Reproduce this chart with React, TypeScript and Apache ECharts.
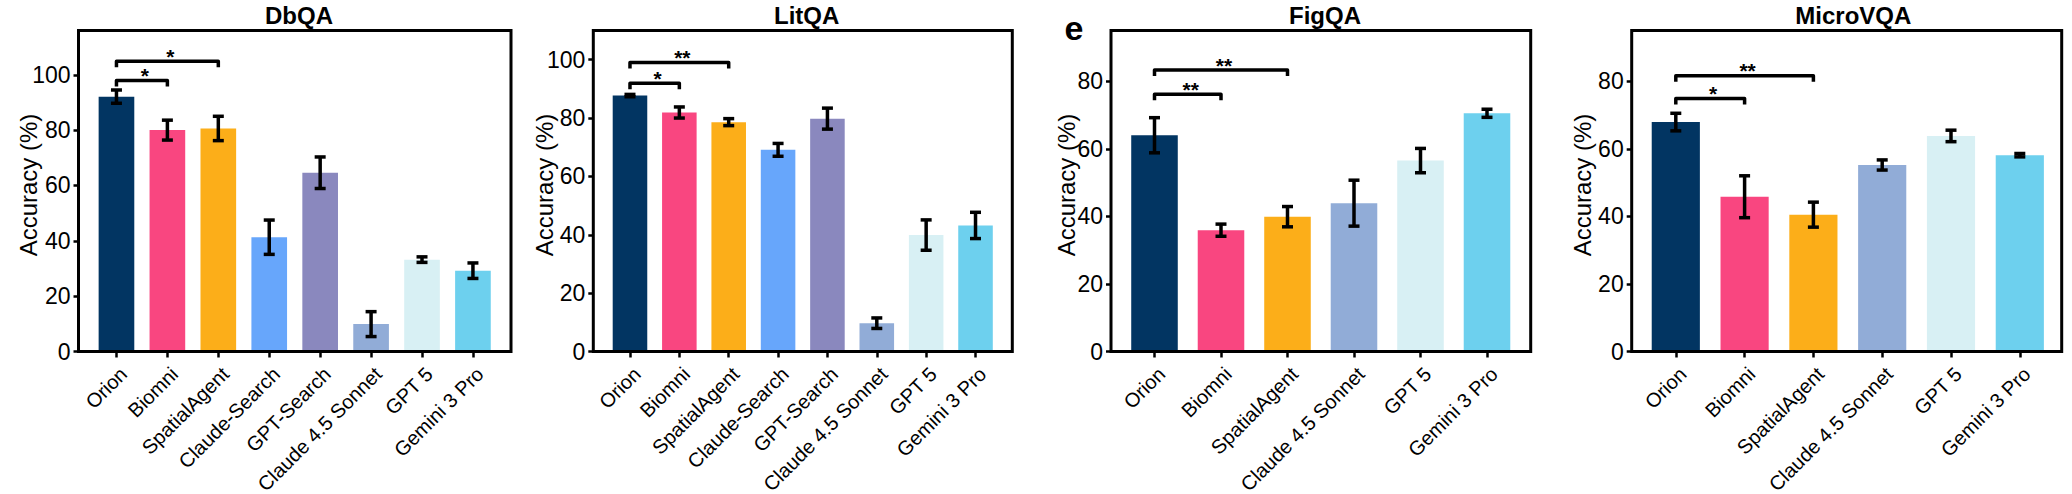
import React, { useEffect, useRef } from 'react';
import * as echarts from 'echarts';

const FONT = '"Liberation Sans", Arial, Helvetica, sans-serif';

// ---------- data ----------
const categories8 = ['Orion', 'Biomni', 'SpatialAgent', 'Claude-Search', 'GPT-Search', 'Claude 4.5 Sonnet', 'GPT 5', 'Gemini 3 Pro'];
const categories6 = ['Orion', 'Biomni', 'SpatialAgent', 'Claude 4.5 Sonnet', 'GPT 5', 'Gemini 3 Pro'];

const dbqaValues = [92.1, 80.0, 80.6, 41.3, 64.6, 9.9, 33.2, 29.2];
const dbqaErrors = [2.4, 3.6, 4.4, 6.2, 5.7, 4.5, 1.0, 2.8];
const litqaValues = [87.7, 81.9, 78.6, 69.1, 79.8, 9.7, 39.9, 43.2];
const litqaErrors = [0.4, 1.9, 1.2, 2.2, 3.6, 1.8, 5.2, 4.5];
const figqaValues = [64.0, 35.9, 39.9, 43.9, 56.5, 70.5];
const figqaErrors = [5.2, 1.8, 3.0, 6.8, 3.6, 1.2];
const microvqaValues = [67.9, 45.8, 40.5, 55.2, 63.8, 58.1];
const microvqaErrors = [2.6, 6.2, 3.7, 1.5, 1.7, 0.5];

// [fromIndex, toIndex, level, label]
const dbqaBrackets: [number, number, number, string][] = [[0, 1, 97.9, '*'], [0, 2, 104.9, '*']];
const litqaBrackets: [number, number, number, string][] = [[0, 1, 91.9, '*'], [0, 2, 99.0, '**']];
const figqaBrackets: [number, number, number, string][] = [[0, 1, 76.1, '**'], [0, 2, 83.3, '**']];
const microvqaBrackets: [number, number, number, string][] = [[0, 1, 74.9, '*'], [0, 2, 81.6, '**']];

const ticks100 = [0, 20, 40, 60, 80, 100];
const ticks80 = [0, 20, 40, 60, 80];

const modelColors: Record<string, string> = {
  'Orion': '#023562',
  'Biomni': '#F94680',
  'SpatialAgent': '#FCAE19',
  'Claude-Search': '#67A6FB',
  'GPT-Search': '#8A88BE',
  'Claude 4.5 Sonnet': '#91ACD7',
  'GPT 5': '#D8F0F4',
  'Gemini 3 Pro': '#6DD0EE',
};

// ---------- layout ----------
const TOP = 30.5;
const BOTTOM = 351.5;

const panels = [
  { title: 'DbQA', titleX: 299, L: 78.5, R: 511, gridLeft: 91, gridWidth: 407.4, yMax: 116, ticks: ticks100, nameX: 28.3, cats: categories8, values: dbqaValues, errors: dbqaErrors, brackets: dbqaBrackets },
  { title: 'LitQA', titleX: 806.7, L: 593.3, R: 1012.3, gridLeft: 605.3, gridWidth: 394.9, yMax: 110, ticks: ticks100, nameX: 544, cats: categories8, values: litqaValues, errors: litqaErrors, brackets: litqaBrackets },
  { title: 'FigQA', titleX: 1325, L: 1111, R: 1530.7, gridLeft: 1121.25, gridWidth: 399, yMax: 95, ticks: ticks80, nameX: 1066, cats: categories6, values: figqaValues, errors: figqaErrors, brackets: figqaBrackets },
  { title: 'MicroVQA', titleX: 1853.3, L: 1631.7, R: 2061.7, gridLeft: 1641.4, gridWidth: 412.8, yMax: 95, ticks: ticks80, nameX: 1582.5, cats: categories6, values: microvqaValues, errors: microvqaErrors, brackets: microvqaBrackets },
];

function buildOption() {
  const grid: any[] = [];
  const xAxis: any[] = [];
  const yAxis: any[] = [];
  const series: any[] = [];
  const graphic: any[] = [];

  panels.forEach((p, i) => {
    grid.push({ left: p.gridLeft, top: TOP, width: p.gridWidth, height: BOTTOM - TOP, containLabel: false, outerBoundsMode: 'none' });
    xAxis.push({
      type: 'category',
      gridIndex: i,
      data: p.cats,
      boundaryGap: true,
      axisLine: { show: false },
      axisTick: { show: true, alignWithLabel: true, length: 6, lineStyle: { color: '#000', width: 2.5 } },
      axisLabel: { rotate: 45, interval: 0, margin: 12, verticalAlign: 'top', hideOverlap: false, color: '#000', fontSize: 20, fontFamily: FONT },
      splitLine: { show: false },
    });
    yAxis.push({
      type: 'value',
      gridIndex: i,
      min: 0,
      max: p.yMax,
      offset: p.gridLeft - p.L,
      axisLine: { show: false },
      axisTick: { show: true, length: 5, customValues: p.ticks, lineStyle: { color: '#000', width: 2.5 } },
      axisLabel: { customValues: p.ticks, margin: 8, color: '#000', fontSize: 23, fontFamily: FONT },
      splitLine: { show: false },
    });
    series.push({
      type: 'bar',
      xAxisIndex: i,
      yAxisIndex: i,
      barWidth: '70%',
      data: p.values.map((v, j) => ({ value: v, itemStyle: { color: modelColors[p.cats[j]] } })),
      z: 2,
    });
    const errs = p.errors;
    series.push({
      type: 'custom',
      xAxisIndex: i,
      yAxisIndex: i,
      z: 5,
      data: p.values.map((v, j) => [j, v - errs[j], v + errs[j]]),
      renderItem: (params: any, api: any) => {
        const x = api.value(0);
        const pLo = api.coord([x, api.value(1)]);
        const pHi = api.coord([x, api.value(2)]);
        const hw = 5.5;
        const st = { stroke: '#000', lineWidth: 3.5 };
        return {
          type: 'group',
          children: [
            { type: 'line', shape: { x1: pLo[0], y1: pLo[1], x2: pHi[0], y2: pHi[1] }, style: st },
            { type: 'line', shape: { x1: pLo[0] - hw, y1: pLo[1], x2: pLo[0] + hw, y2: pLo[1] }, style: st },
            { type: 'line', shape: { x1: pHi[0] - hw, y1: pHi[1], x2: pHi[0] + hw, y2: pHi[1] }, style: st },
          ],
        };
      },
    });
    const br = p.brackets;
    series.push({
      type: 'custom',
      xAxisIndex: i,
      yAxisIndex: i,
      z: 5,
      data: br.map((b) => [b[0], b[1], b[2]]),
      renderItem: (params: any, api: any) => {
        const a = api.coord([api.value(0), api.value(2)]);
        const b = api.coord([api.value(1), api.value(2)]);
        const drop = 6;
        const label = br[params.dataIndex][3];
        return {
          type: 'group',
          children: [
            {
              type: 'polyline',
              shape: { points: [[a[0], a[1] + drop], [a[0], a[1]], [b[0], b[1]], [b[0], b[1] + drop]] },
              style: { stroke: '#000', lineWidth: 3.5, fill: null, lineJoin: 'round' },
            },
            {
              type: 'text',
              x: (a[0] + b[0]) / 2 + 3,
              y: a[1] - 5,
              style: { text: label, fill: '#000', font: `bold 21px ${FONT}`, align: 'center', verticalAlign: 'middle' },
            },
          ],
        };
      },
    });

    graphic.push({
      type: 'rect',
      shape: { x: p.L, y: TOP, width: p.R - p.L, height: BOTTOM - TOP },
      style: { fill: 'none', stroke: '#000', lineWidth: 3 },
      z: 100,
      silent: true,
    });
    graphic.push({
      type: 'text',
      x: p.titleX,
      y: 15,
      style: { text: p.title, fill: '#000', font: `bold 24px ${FONT}`, align: 'center', verticalAlign: 'middle' },
    });
    graphic.push({
      type: 'text',
      x: p.nameX,
      y: 185,
      rotation: Math.PI / 2,
      style: { text: 'Accuracy (%)', fill: '#000', font: `24px ${FONT}`, align: 'center', verticalAlign: 'middle' },
    });
  });

  graphic.push({
    type: 'text',
    x: 1074,
    y: 28,
    style: { text: 'e', fill: '#000', font: `bold 34px ${FONT}`, align: 'center', verticalAlign: 'middle' },
  });

  return {
    animation: false,
    backgroundColor: '#fff',
    textStyle: { fontFamily: FONT },
    grid,
    xAxis,
    yAxis,
    series,
    graphic,
  };
}

export default function App() {
  const ref = useRef<HTMLDivElement>(null);
  useEffect(() => {
    if (!ref.current) return;
    const chart = echarts.init(ref.current, undefined, { renderer: 'svg' });
    chart.setOption(buildOption() as any);
    return () => chart.dispose();
  }, []);
  return <div ref={ref} style={{ position: 'absolute', left: 0, top: 0, width: 2072, height: 494 }} />;
}
